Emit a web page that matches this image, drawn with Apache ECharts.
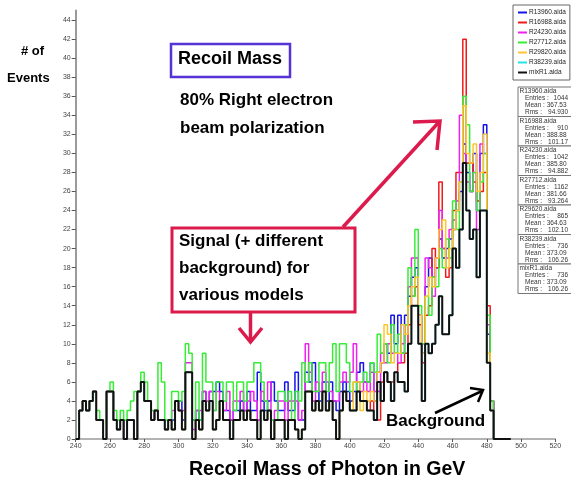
<!DOCTYPE html>
<html>
<head>
<meta charset="utf-8">
<script src="https://cdn.jsdelivr.net/npm/echarts@6/dist/echarts.min.js"></script>
<style>
  html, body { margin: 0; padding: 0; background: #fff; }
  #main { width: 571px; height: 480px; }
</style>
</head>
<body>
<div id="main"></div>
<script>
// histogram bins: 2 GeV wide, first bin starts at 240 GeV
const binLow = 240;
const binWidth = 2;

// counts per bin (bins 240 .. 492)
const mixR1 = [
  0,3,4,3,4,5,2,2,0,5,
  5,2,1,2,0,2,2,0,5,6,
  4,4,2,3,2,2,1,2,1,4,
  3,1,7,7,0,2,1,4,3,4,
  1,2,4,2,2,0,2,2,3,2,
  3,2,2,0,3,2,3,0,2,2,
  2,0,2,2,1,0,1,5,5,3,
  4,3,5,3,4,2,0,3,5,4,
  3,3,5,4,4,3,3,2,6,4,
  7,6,4,7,6,6,5,10,14,14,
  10,4,10,9,10,12,15,11,11,13,
  20,18,22,29,24,21,22,17,24,24,
  8,3,0,0,0,0,0
];
const r38239 = mixR1.slice();   // same sample as mixR1 (same entries / mean / rms)
const r27712 = [
  0,3,4,3,4,5,3,2,0,5,
  6,3,2,3,2,3,4,5,5,7,
  6,4,3,3,8,6,2,2,5,5,
  4,5,10,9,2,6,2,9,6,6,
  3,6,6,4,6,6,3,6,6,4,
  6,6,8,8,6,4,3,2,2,5,
  5,4,5,2,5,4,8,6,8,5,
  5,8,8,5,8,10,5,10,10,8,
  5,6,5,6,7,6,8,7,11,9,
  10,8,12,9,11,9,12,18,15,22,
  14,10,15,13,17,16,20,18,21,19,
  25,22,27,36,33,26,28,24,27,30,
  13,4,0,0,0,0,0
];
const r29820 = [
  0,3,4,3,4,5,2,2,0,5,
  5,2,1,2,0,2,2,0,5,6,
  4,4,2,3,2,2,1,2,1,4,
  3,1,7,7,0,2,1,4,3,4,
  1,2,4,2,2,0,2,2,3,2,
  3,2,2,0,3,2,3,0,2,2,
  2,0,2,2,1,0,1,5,5,3,
  4,3,5,3,4,2,0,3,5,4,
  3,6,6,3,5,4,5,4,7,8,
  12,11,8,9,9,12,11,14,16,17,
  13,9,15,17,16,19,22,23,18,20,
  22,24,27,35,30,29,31,26,28,32,
  9,3,0,0,0,0,0
];
const r16988 = [
  0,3,4,3,4,5,2,2,0,5,
  5,2,1,2,0,2,2,0,5,6,
  4,4,2,3,2,2,1,2,1,4,
  3,1,7,7,0,2,1,4,3,4,
  1,2,4,2,2,0,2,2,3,2,
  3,2,2,0,3,2,3,0,2,2,
  2,0,2,2,1,0,1,5,5,3,
  4,3,5,3,4,2,0,3,5,4,
  3,3,5,4,4,3,4,2,2,6,
  7,6,6,7,8,8,9,12,15,16,
  12,8,13,14,20,18,27,20,17,18,
  24,28,28,42,29,29,27,25,26,28,
  14,4,0,0,0,0,0
];
const r24230 = [
  0,3,4,3,4,5,2,2,0,5,
  5,2,1,2,0,2,2,0,5,6,
  4,4,2,3,2,2,1,2,3,4,
  3,3,8,8,1,3,3,5,4,5,
  3,5,4,3,5,2,4,4,5,3,
  4,5,4,2,5,4,6,2,3,4,
  4,2,4,4,4,2,3,10,7,4,
  6,5,7,6,5,4,4,6,7,6,
  7,10,6,5,6,5,7,5,5,9,
  8,10,9,9,8,10,12,16,19,19,
  13,10,19,18,15,19,24,20,19,22,
  23,25,34,30,27,26,28,22,31,30,
  12,4,0,0,0,0,0
];
const r13960 = [
  0,3,4,3,4,5,2,2,0,5,
  5,2,1,2,0,2,2,0,5,6,
  4,4,2,3,2,2,1,2,2,4,
  4,2,7,7,2,3,2,5,3,5,
  5,6,5,3,3,2,3,3,4,3,
  5,3,3,7,4,3,4,6,4,3,
  3,6,3,3,7,2,2,7,6,8,
  5,4,6,4,6,4,3,5,6,5,
  4,5,7,8,6,6,8,4,7,8,
  10,9,13,10,13,9,13,15,17,18,
  13,9,16,19,17,18,21,19,20,21,
  22,24,26,31,28,26,30,24,30,33,
  11,4,0,0,0,0,0
];

const seriesNames = ['R13960.aida', 'R16988.aida', 'R24230.aida', 'R27712.aida', 'R29820.aida', 'R38239.aida', 'mixR1.aida'];
const seriesValues = [r13960, r16988, r24230, r27712, r29820, r38239, mixR1];
const seriesColors = ['#1414e8', '#ee1a1a', '#ee22ee', '#35ee35', '#ffc52c', '#22e4e4', '#111111'];

// stats boxes text
const statNames = ['R13960.aida', 'R16988.aida', 'R24230.aida', 'R27712.aida', 'R29620.aida', 'R38239.aida', 'mixR1.aida'];
const statEntries = ['1044', '910', '1042', '1162', '865', '736', '736'];
const statMean = ['367.53', '388.88', '385.80', '381.66', '364.63', '373.09', '373.09'];
const statRms = ['94.930', '101.17', '94.882', '93.264', '102.10', '106.26', '106.26'];

const font = 'Liberation Sans, Arial, Helvetica, sans-serif';
const crimson = '#dc1a4c';

function toSteps(vals) {
  var pts = vals.map(function (v, i) { return [binLow + i * binWidth, v]; });
  pts.push([binLow + vals.length * binWidth, 0]);
  return pts;
}

var chart = echarts.init(document.getElementById('main'), null, { renderer: 'canvas' });

var series = seriesNames.map(function (name, k) {
  return {
    name: name,
    type: 'line',
    step: 'end',
    showSymbol: false,
    symbol: 'none',
    animation: false,
    data: toSteps(seriesValues[k]),
    lineStyle: { color: seriesColors[k], width: k === 6 ? 2 : 1.5 },
    itemStyle: { color: seriesColors[k] },
    z: 2 + k
  };
});

var graphics = [];
function txt(x, y, s, size, extra) {
  graphics.push(Object.assign({
    type: 'text', left: x, top: y, z: 100,
    style: { text: s, font: 'bold ' + size + 'px ' + font, fill: '#000' }
  }, extra || {}));
}

// left axis title
txt(21, 45, '# of', 13);
txt(7, 72, 'Events', 13);

// "Recoil Mass" box
graphics.push({ type: 'rect', shape: { x: 171, y: 44, width: 119, height: 33 }, z: 100,
  style: { fill: '#fff', stroke: '#5533d6', lineWidth: 2.5 } });
txt(178, 50, 'Recoil Mass', 18);
txt(180, 92, '80% Right electron', 17);
txt(180, 120, 'beam polarization', 17);

// signal box
graphics.push({ type: 'rect', shape: { x: 172, y: 228, width: 183, height: 84 }, z: 100,
  style: { fill: '#fff', stroke: crimson, lineWidth: 3 } });
txt(179, 233, 'Signal (+ different', 17);
txt(179, 260, 'background) for', 17);
txt(179, 287, 'various models', 17);

// crimson arrows
graphics.push({ type: 'polyline', z: 100, shape: { points: [[343, 227], [439, 122]] },
  style: { stroke: crimson, lineWidth: 3.5 } });
graphics.push({ type: 'polyline', z: 100, shape: { points: [[413, 122], [440, 121], [437, 150]] },
  style: { stroke: crimson, lineWidth: 3.5, fill: null } });
graphics.push({ type: 'polyline', z: 100, shape: { points: [[250.5, 313], [250.5, 342]] },
  style: { stroke: crimson, lineWidth: 3.5 } });
graphics.push({ type: 'polyline', z: 100, shape: { points: [[239, 328], [250.5, 342], [262, 328]] },
  style: { stroke: crimson, lineWidth: 3.5, fill: null } });

// background label and arrow
txt(386, 413, 'Background', 17);
graphics.push({ type: 'polyline', z: 100, shape: { points: [[435, 413], [482, 391]] },
  style: { stroke: '#000', lineWidth: 2.5 } });
graphics.push({ type: 'polyline', z: 100, shape: { points: [[470, 388], [483, 390], [478, 402]] },
  style: { stroke: '#000', lineWidth: 2.5, fill: null } });

// x axis title
txt(189, 460, 'Recoil Mass of Photon in GeV', 19.5);

// stats boxes
var boxTop = 87, boxH = 29.5, boxX = 518;
statNames.forEach(function (nm, k) {
  var y0 = boxTop + k * boxH;
  graphics.push({ type: 'rect', z: 90, shape: { x: boxX, y: y0, width: 60, height: boxH },
    style: { fill: '#fff', stroke: '#777', lineWidth: 1 } });
  var st = { font: '6.5px ' + font, fill: '#333' };
  graphics.push({ type: 'text', z: 91, left: boxX + 1.5, top: y0 + 1, style: Object.assign({ text: nm }, st) });
  graphics.push({ type: 'text', z: 91, left: boxX + 7, top: y0 + 8, style: Object.assign({ text: 'Entries :' }, st) });
  graphics.push({ type: 'text', z: 91, right: 571 - 568, top: y0 + 8, style: Object.assign({ text: statEntries[k] }, st) });
  graphics.push({ type: 'text', z: 91, left: boxX + 7, top: y0 + 15, style: Object.assign({ text: 'Mean : ' + statMean[k] }, st) });
  graphics.push({ type: 'text', z: 91, left: boxX + 7, top: y0 + 22, style: Object.assign({ text: 'Rms :' }, st) });
  graphics.push({ type: 'text', z: 91, right: 571 - 568, top: y0 + 22, style: Object.assign({ text: statRms[k] }, st) });
});

var option = {
  backgroundColor: '#ffffff',
  animation: false,
  grid: { left: 75.7, right: 15.7, top: 10.6, bottom: 41, containLabel: false },
  legend: {
    orient: 'vertical',
    left: 513, top: 5,
    padding: [4, 4, 4, 5],
    icon: 'rect',
    itemWidth: 9, itemHeight: 2, itemGap: 3,
    borderColor: '#666', borderWidth: 1,
    backgroundColor: '#fff',
    selectedMode: false,
    textStyle: { fontSize: 6.5, lineHeight: 7, color: '#222', fontFamily: font, padding: [0, 0, 0, -3] },
    data: seriesNames
  },
  xAxis: {
    type: 'value', min: 240, max: 520, interval: 20,
    axisLine: { show: true, lineStyle: { color: '#9a9a9a', width: 1.5 } },
    axisTick: { show: true, length: 3, lineStyle: { color: '#555' } },
    axisLabel: { fontSize: 7, color: '#444', fontFamily: font, margin: 4 },
    splitLine: { show: false }
  },
  yAxis: {
    type: 'value', min: 0, max: 45, interval: 2,
    axisLine: { show: true, lineStyle: { color: '#9a9a9a', width: 2 } },
    axisTick: { show: true, length: 4, lineStyle: { color: '#555' } },
    axisLabel: { fontSize: 7, color: '#444', fontFamily: font, margin: 5, showMaxLabel: false },
    splitLine: { show: false }
  },
  series: series,
  graphic: graphics
};

chart.setOption(option);
</script>
</body>
</html>
